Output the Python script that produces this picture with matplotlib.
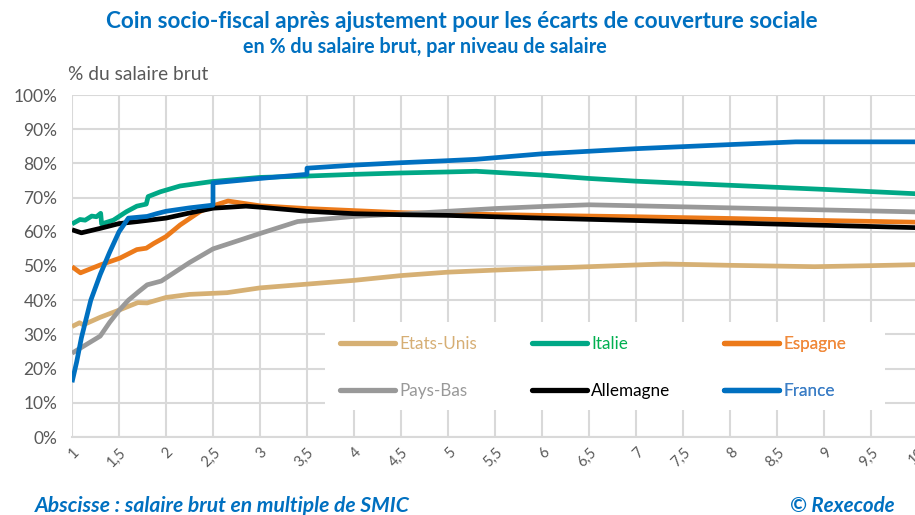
import matplotlib
matplotlib.use('Agg')
import matplotlib.pyplot as plt
from matplotlib.patches import Rectangle
from matplotlib.ticker import FixedLocator, FuncFormatter

plt.rcParams['font.family'] = ['Lato', 'DejaVu Sans']

# salaire brut en multiple de SMIC / coin socio-fiscal en %
eu_x = [1.0, 1.08, 1.12, 1.3, 1.5, 1.7, 1.8, 2.0, 2.25, 2.65, 3.0, 3.5, 4.0, 4.5, 5.0, 5.5, 6.0, 6.5, 7.0, 7.3, 8.0, 8.9, 9.5, 10.0]
eu_y = [32.3, 33.4, 32.8, 35.0, 37.1, 39.3, 39.2, 40.8, 41.7, 42.2, 43.6, 44.7, 45.8, 47.2, 48.2, 48.8, 49.3, 49.8, 50.3, 50.6, 50.2, 49.8, 50.1, 50.4]

it_x = [1.0, 1.085, 1.14, 1.21, 1.26, 1.305, 1.315, 1.44, 1.58, 1.69, 1.79, 1.81, 1.94, 2.15, 2.49, 3.0, 3.5, 4.0, 4.5, 5.0, 5.3, 6.0, 6.5, 7.0, 8.0, 9.0, 10.0]
it_y = [62.3, 63.6, 63.4, 64.6, 64.4, 65.4, 62.3, 63.4, 65.9, 67.5, 68.1, 70.3, 71.7, 73.4, 74.7, 75.9, 76.3, 76.8, 77.2, 77.5, 77.7, 76.6, 75.6, 74.8, 73.6, 72.4, 71.1]

es_x = [1.0, 1.09, 1.3, 1.51, 1.69, 1.79, 1.87, 2.0, 2.15, 2.36, 2.5, 2.66, 3.0, 3.5, 4.0, 4.5, 5.0, 6.0, 7.0, 8.0, 9.0, 10.0]
es_y = [49.8, 48.0, 50.3, 52.3, 54.8, 55.2, 56.6, 58.6, 62.0, 65.9, 67.6, 69.0, 67.6, 66.8, 66.2, 65.6, 65.3, 64.8, 64.4, 63.9, 63.3, 62.8]

pb_x = [1.0, 1.15, 1.3, 1.4, 1.5, 1.6, 1.7, 1.8, 1.95, 2.0, 2.25, 2.5, 3.0, 3.4, 4.0, 4.5, 5.0, 5.5, 6.0, 6.5, 7.0, 8.0, 9.0, 10.0]
pb_y = [24.5, 27.0, 29.5, 33.5, 37.0, 40.0, 42.3, 44.5, 45.6, 46.5, 51.0, 55.0, 59.5, 63.0, 64.5, 65.2, 66.0, 66.8, 67.4, 67.9, 67.6, 67.0, 66.4, 65.8]

al_x = [1.0, 1.1, 1.3, 1.5, 1.7, 2.0, 2.25, 2.5, 2.85, 3.0, 3.5, 4.0, 4.5, 5.0, 6.0, 7.0, 8.0, 9.0, 10.0]
al_y = [60.6, 59.7, 61.0, 62.4, 63.0, 64.0, 65.5, 66.9, 67.5, 67.2, 66.0, 65.3, 65.0, 64.8, 64.0, 63.3, 62.6, 61.9, 61.2]

fr_x = [1.0, 1.05, 1.1, 1.2, 1.3, 1.4, 1.5, 1.6, 1.8, 1.9, 2.0, 2.25, 2.5, 2.5, 3.0, 3.5, 3.5, 4.0, 4.5, 5.0, 5.3, 6.0, 7.0, 8.0, 8.7, 10.0]
fr_y = [16.0, 22.0, 29.0, 40.0, 47.5, 54.0, 60.0, 64.0, 64.5, 65.3, 66.0, 67.0, 67.8, 74.3, 75.6, 76.8, 78.6, 79.5, 80.2, 80.8, 81.2, 82.8, 84.3, 85.5, 86.3, 86.3]

series = [
    ('Etats-Unis', eu_x, eu_y, '#d6b074', '#d6ae74'),
    ('Italie', it_x, it_y, '#00a886', '#00b050'),
    ('Espagne', es_x, es_y, '#ec7a1a', '#f08a3c'),
    ('Pays-Bas', pb_x, pb_y, '#999999', '#999999'),
    ('Allemagne', al_x, al_y, '#000000', '#000000'),
    ('France', fr_x, fr_y, '#0070c0', '#3d7fc6'),
]

blue = '#0070c0'
grey_txt = '#595959'

fig = plt.figure(figsize=(9.15, 5.15), dpi=100)
ax = fig.add_axes([72 / 915, 78 / 515, 846 / 915, 342 / 515])

lines = {}
for name, xs, ys, col, tcol in series:
    ln, = ax.plot(xs, ys, color=col, lw=3.4, label=name, solid_capstyle='butt',
                  solid_joinstyle='round', zorder=3)
    lines[name] = ln

ax.set_xlim(1, 10)
ax.set_ylim(0, 100)
ax.xaxis.set_major_locator(FixedLocator([1 + 0.5 * i for i in range(19)]))
ax.yaxis.set_major_locator(FixedLocator(list(range(0, 101, 10))))
ax.xaxis.set_major_formatter(FuncFormatter(lambda v, p: ('%g' % v).replace('.', ',')))
ax.yaxis.set_major_formatter(FuncFormatter(lambda v, p: '%d%%' % v))
ax.grid(True, color='#d9d9d9', lw=1.5)
ax.set_axisbelow(True)
for s in ['top', 'right', 'left']:
    ax.spines[s].set_visible(False)
ax.spines['bottom'].set_color('#d9d9d9')
ax.spines['bottom'].set_linewidth(1.5)
ax.tick_params(length=0)
ax.tick_params(axis='y', labelsize=12.5, labelcolor=grey_txt, pad=10.5)
ax.tick_params(axis='x', labelsize=10.5, labelcolor=grey_txt, pad=6)
for lab in ax.get_xticklabels():
    lab.set_rotation(45)
    lab.set_ha('right')
    lab.set_va('top')
    lab.set_rotation_mode('anchor')

# fond blanc de la légende
ax.add_patch(Rectangle((0.299, 0.079), 0.662, 0.257, transform=ax.transAxes,
                       facecolor='white', edgecolor='none', zorder=1.5))

tcols = {n: t for n, _, _, _, t in series}
columns = [['Etats-Unis', 'Pays-Bas'], ['Italie', 'Allemagne'], ['Espagne', 'France']]
col_x = [0.3168, 0.5437, 0.7707]
for names, x0 in zip(columns, col_x):
    leg = ax.legend([lines[n] for n in names], names, loc='center left',
                    bbox_to_anchor=(x0, 0.204), frameon=False,
                    handlelength=3.2, handletextpad=0.25, fontsize=12.3,
                    labelspacing=1.8, borderpad=0, borderaxespad=0)
    for txt in leg.get_texts():
        txt.set_color(tcols[txt.get_text()])
    for h in leg.legend_handles:
        h.set_solid_capstyle('round')
        h.set_linewidth(3.8)
    leg.set_zorder(4)
    ax.add_artist(leg)

fig.text(462 / 915, 1 - 22 / 515, 'Coin socio-fiscal après ajustement pour les écarts de couverture sociale',
         ha='center', va='center', color=blue, fontsize=16.2, fontweight='bold')
fig.text(425 / 915, 1 - 47 / 515, 'en % du salaire brut, par niveau de salaire',
         ha='center', va='center', color=blue, fontsize=14.2, fontweight='bold')
fig.text(68 / 915, 1 - 75 / 515, '% du salaire brut', ha='left', va='center',
         color=grey_txt, fontsize=13.8)
fig.text(35 / 915, 1 - 506 / 515, 'Abscisse : salaire brut en multiple de SMIC', ha='left', va='center',
         color=blue, fontsize=15.2, fontweight='bold', fontstyle='italic')
fig.text(895 / 915, 1 - 506 / 515, '© Rexecode', ha='right', va='center',
         color=blue, fontsize=14.8, fontweight='bold', fontstyle='italic')

fig.savefig('out.png', dpi=100)
